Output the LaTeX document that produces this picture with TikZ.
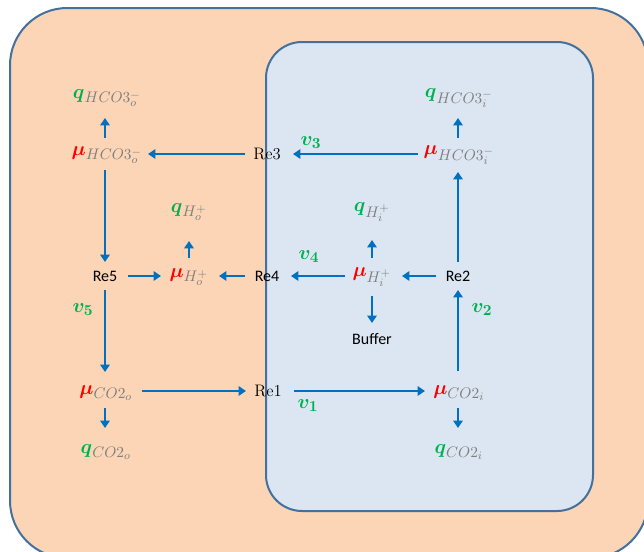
\RequirePackage{fix-cm}
\documentclass[tikz,border=0pt]{standalone}
\usepackage{fontspec}
\usepackage{bm}
\usetikzlibrary{arrows.meta}
\newfontfamily\calib{Carlito}
\definecolor{outerfill}{HTML}{FBD5B5}
\definecolor{innerfill}{HTML}{DCE6F2}
\definecolor{edgeblue}{HTML}{41719C}
\definecolor{arrblue}{HTML}{0070C0}
\definecolor{labgreen}{HTML}{00B050}
\definecolor{subgray}{HTML}{7F7F7F}
\DeclareMathSizes{15}{15}{11.5}{8.5}
\newcommand\chemmu[1]{\textcolor{red}{\bm{\mu}}_{\textcolor{subgray}{#1}}}
\newcommand\chemq[1]{\textcolor{labgreen}{\bm{q}}_{\textcolor{subgray}{#1}}}
\newcommand\flux[1]{\textcolor{labgreen}{$\bm{v}_{\bm{#1}}$}}
\begin{document}
\begin{tikzpicture}[x=0.75pt,y=-0.75pt,
  arr/.style={draw=arrblue,line width=2.1pt,-{Triangle[length=5.5pt,width=7pt]}},
  mth/.style={font=\fontsize{15}{18}\selectfont,inner sep=0pt},
  resans/.style={font=\calib\fontsize{12}{14}\selectfont,inner sep=0pt},
  reserif/.style={font=\fontsize{12.5}{14}\selectfont,inner sep=0pt},
  flx/.style={font=\fontsize{15}{18}\selectfont,inner sep=0pt}]
\useasboundingbox (0,0) rectangle (644,551);
\clip (0,0) rectangle (644,551);
\draw[fill=outerfill,draw=edgeblue,line width=1.5pt,rounded corners=43pt] (10,8) rectangle (648,558);
\draw[fill=innerfill,draw=edgeblue,line width=1.5pt,rounded corners=27pt] (266,42) rectangle (593,511);
% nodes
\node[mth] (qhco3o) at (107,98) {$\chemq{HCO3_o^-}$};
\node[mth] (muhco3o) at (107,155) {$\chemmu{HCO3_o^-}$};
\node[reserif] (re3) at (267,154) {Re3};
\node[mth] (muhco3i) at (459,155) {$\chemmu{HCO3_i^-}$};
\node[mth] (qhco3i) at (459,98) {$\chemq{HCO3_i^-}$};
\node[resans] (re5) at (105,276) {Re5};
\node[mth] (muho) at (189,277) {$\chemmu{H_o^+}$};
\node[mth] (qho) at (189,212) {$\chemq{H_o^+}$};
\node[resans] (re4) at (267,276) {Re4};
\node[mth] (muhi) at (372,277) {$\chemmu{H_i^+}$};
\node[mth] (qhi) at (372,212) {$\chemq{H_i^+}$};
\node[resans] (re2) at (458,276) {Re2};
\node[resans] (buffer) at (372,339) {Buffer};
\node[mth] (muco2o) at (106,393) {$\chemmu{CO2_o}$};
\node[mth] (qco2o) at (106,452) {$\chemq{CO2_o}$};
\node[reserif] (re1) at (268,391) {Re1};
\node[mth] (muco2i) at (459,393) {$\chemmu{CO2_i}$};
\node[mth] (qco2i) at (459,452) {$\chemq{CO2_i}$};
\node[flx] (v3) at (311,143) {\flux{3}};
\node[flx] (v4) at (309,257) {\flux{4}};
\node[flx] (v5) at (83,310) {\flux{5}};
\node[flx] (v2) at (482,310) {\flux{2}};
\node[flx] (v1) at (308,406) {\flux{1}};
% arrows
\draw[arr,shorten <=12.75pt,shorten >=15pt] (re5 |- muhco3o) -- (re5 |- qhco3o);
\draw[arr,shorten <=16.5pt,shorten >=32.25pt] (re3.center) -- (re3 -| re5);
\draw[arr,shorten <=30pt,shorten >=19.5pt] (re3 -| re2) -- (re3.center);
\draw[arr,shorten <=12.75pt,shorten >=15pt] (re2 |- muhco3i) -- (re2 |- qhco3i);
\draw[arr,shorten <=10.5pt,shorten >=13.5pt] (re2.center) -- (re2 |- re3);
\draw[arr,shorten <=15pt,shorten >=10.5pt] (re2 |- re1) -- (re2.center);
\draw[arr,shorten <=12.75pt,shorten >=18pt] (re2 |- re1) -- (re2 |- qco2i);
\draw[arr,shorten <=19.5pt,shorten >=24.75pt] (re1.center) -- (re1 -| re2);
\draw[arr,shorten <=27.75pt,shorten >=16.5pt] (re1 -| re5) -- (re1.center);
\draw[arr,shorten <=12.75pt,shorten >=18pt] (re5 |- re1) -- (re5 |- qco2o);
\draw[arr,shorten <=12pt,shorten >=10.5pt] (re5 |- re3) -- (re5.center);
\draw[arr,shorten <=10.5pt,shorten >=14.25pt] (re5.center) -- (re5 |- re1);
\draw[arr,shorten <=17.25pt,shorten >=21pt] (re5.center) -- (re5 -| muho);
\draw[arr,shorten <=13.5pt,shorten >=21.75pt] (muho |- re5) -- (muho |- qho);
\draw[arr,shorten <=16.5pt,shorten >=22.5pt] (re4.center) -- (re4 -| muho);
\draw[arr,shorten <=20.25pt,shorten >=18pt] (re4 -| muhi) -- (re4.center);
\draw[arr,shorten <=16.5pt,shorten >=22.5pt] (re2.center) -- (re2 -| muhi);
\draw[arr,shorten <=13.5pt,shorten >=21pt] (muhi |- re4) -- (muhi |- qhi);
\draw[arr,shorten <=15pt,shorten >=12pt] (muhi |- re4) -- (buffer.center);
\end{tikzpicture}
\end{document}
